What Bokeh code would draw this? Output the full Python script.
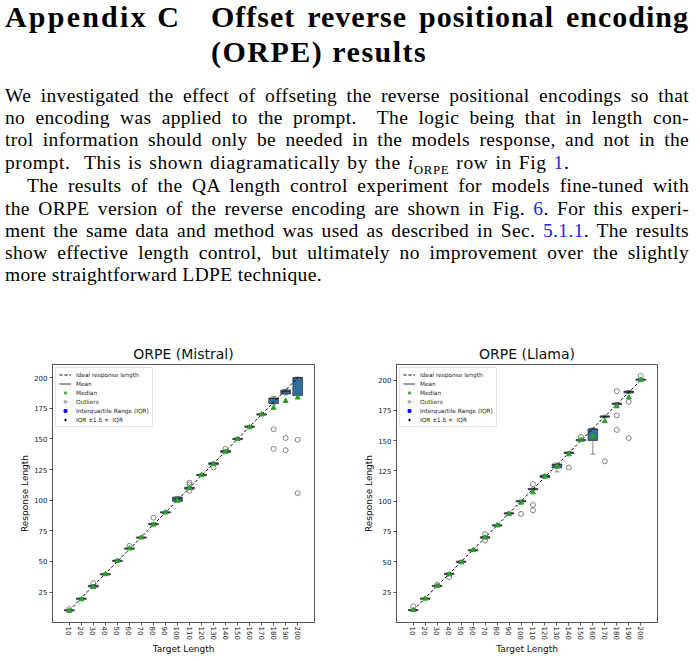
from bokeh.plotting import figure
from bokeh.models import ColumnDataSource, Div, Legend, LegendItem, FixedTicker
from bokeh.layouts import column, row
from bokeh.embed import file_html
from bokeh.resources import INLINE

# target lengths (x categories)
targets = [10, 20, 30, 40, 50, 60, 70, 80, 90, 100,
           110, 120, 130, 140, 150, 160, 170, 180, 190, 200]
y_ticks = [25, 50, 75, 100, 125, 150, 175, 200]

# ORPE (Mistral)
mistral_q1 = [9.5, 19, 29, 39, 50, 60, 69, 80, 89.5, 99, 109, 120, 129, 139, 149.5, 159.5, 169.5, 179, 186.7, 185.4]
mistral_q3 = [10.5, 20, 30.5, 40, 51, 61, 70, 81, 90.5, 102.5, 110.5, 121, 130.5, 140.5, 150.5, 160.5, 170.5, 183.5, 190, 200]
mistral_med = [10, 19.5, 30, 39.5, 50.5, 60.5, 69.5, 80.5, 90, 101, 110, 120.5, 130, 140, 150, 160, 170, 183, 188.7, 200]
mistral_tri = [9.6, 19, 29, 39.5, 50.5, 60.5, 69.5, 80, 90, 99.6, 110, 120.5, 129.5, 139.5, 150, 159.5, 170, 175.4, 181, 183.8]
mistral_wlo = [9, 18.5, 28.5, 38.5, 49.5, 59.5, 68.5, 79.5, 89, 98.5, 108.5, 119.5, 128.5, 138.5, 149, 159, 169, 178, 186, 183]
mistral_whi = [10.8, 20.5, 31, 40.5, 51.5, 61.5, 70.5, 81.5, 91, 103, 111, 121.5, 131, 141, 151, 161, 171, 184.6, 190.5, 200.5]
mistral_out_x = [10, 30, 60, 80, 110, 110, 110, 130, 140, 180, 180, 190, 190, 200, 200]
mistral_out_y = [11, 32.2, 62.7, 85.7, 114.3, 112.8, 107.6, 126.7, 141.9, 157.9, 141.9, 150.8, 140.8, 149.4, 105.7]

# ORPE (Llama)
llama_q1 = [9.5, 19, 29.5, 39.5, 49.5, 59, 69.5, 79.5, 89.5, 99.5, 109.5, 119.5, 127.5, 139.5, 150, 150.2, 169.5, 180, 189.5, 200]
llama_q3 = [10.5, 20, 30.5, 40.5, 50.5, 60, 70.5, 80.5, 90.5, 100.5, 110.5, 121.5, 130.8, 140.5, 151, 159.8, 170.5, 181, 191, 201]
llama_med = [10, 19.5, 30, 40, 50, 59.5, 70.5, 80, 90, 100, 110, 120.5, 130, 140, 150.5, 159.5, 170, 180.5, 190.5, 200.5]
llama_tri = [10, 19.5, 30, 39.5, 49.5, 59.5, 70, 80, 89.5, 98.8, 107.3, 120.5, 128.6, 138.7, 150.5, 153.8, 166.1, 178.4, 185.8, 200.3]
llama_wlo = [9, 18.5, 29, 39, 49, 58.5, 69, 79, 89, 99, 109, 119, 124.3, 139, 149.5, 139, 169, 179.5, 189, 199.5]
llama_whi = [11, 20.5, 31, 41, 51, 60.5, 71, 81, 91, 101, 111, 122, 131.5, 141, 151.5, 160.5, 171, 181.5, 191.5, 201.5]
llama_out_x = [10, 30, 40, 70, 70, 100, 110, 110, 110, 140, 150, 170, 180, 180, 180, 190, 190, 200]
llama_out_y = [13.2, 31, 37.3, 72.8, 67.7, 89.5, 114.1, 96.9, 92.5, 127.8, 153.2, 133, 191, 171, 159, 182.2, 152.2, 203.5]

BOX_W = 8
FONT = "DejaVu Sans"


def make_chart(title, q1, q3, med, tri, wlo, whi, out_x, out_y, y_range, left, right, fw):
    p = figure(frame_width=fw, frame_height=258, title=title, x_range=(-4, 214), y_range=y_range,
               output_backend="svg", toolbar_location=None,
               min_border_left=left, min_border_right=right,
               min_border_top=28, min_border_bottom=20)
    p.grid.visible = False
    p.outline_line_color = "#555555"
    p.title.align = "center"
    p.title.text_font = FONT
    p.title.text_font_size = "14px"
    p.title.text_font_style = "normal"
    p.title.text_color = "#111111"
    p.title.standoff = 6

    src = ColumnDataSource(data=dict(
        x=targets, q1=q1, q3=q3, med=med, tri=tri, wlo=wlo, whi=whi,
        x0=[t - BOX_W / 2 for t in targets], x1=[t + BOX_W / 2 for t in targets],
        c0=[t - BOX_W / 4 for t in targets], c1=[t + BOX_W / 4 for t in targets],
    ))

    # whiskers + caps
    p.segment(x0="x", y0="wlo", x1="x", y1="q1", source=src, line_color="#888888", line_width=1)
    p.segment(x0="x", y0="q3", x1="x", y1="whi", source=src, line_color="#888888", line_width=1)
    p.segment(x0="c0", y0="wlo", x1="c1", y1="wlo", source=src, line_color="#888888", line_width=1)
    p.segment(x0="c0", y0="whi", x1="c1", y1="whi", source=src, line_color="#888888", line_width=1)
    # boxes
    p.vbar(x="x", bottom="q1", top="q3", width=BOX_W, source=src,
           fill_color="#2f6fa0", line_color="#3a3a3a", line_width=0.8)
    mean_r = p.segment(x0="x0", y0="med", x1="x1", y1="med", source=src,
                       line_color="#333333", line_width=1)

    ideal = p.line(x=[targets[0], targets[-1]], y=[targets[0], targets[-1]],
                   line_color="black", line_dash="3 2", line_width=1)
    outl = p.scatter(x=out_x, y=out_y, marker="circle", size=5, fill_color=None,
                     line_color="#666666", line_width=0.8)
    tri_r = p.scatter(x="x", y="tri", source=src, marker="triangle", size=5,
                      fill_color="#2ca02c", line_color="#2ca02c")

    # zero-size markers, only there to give the legend its IQR symbols
    iqr = p.scatter(x="x", y="q1", source=src, marker="square", size=0,
                    fill_color="#0000ff", line_color="#0000ff")
    wh = p.scatter(x="x", y="wlo", source=src, marker="cross", size=0,
                   line_color="black", line_width=1)

    legend = Legend(items=[
        LegendItem(label="Ideal response length", renderers=[ideal]),
        LegendItem(label="Mean", renderers=[mean_r]),
        LegendItem(label="Median", renderers=[tri_r]),
        LegendItem(label="Outliers", renderers=[outl]),
        LegendItem(label="Interquartile Range (IQR)", renderers=[iqr]),
        LegendItem(label="IQR \u00b11.5 \u00d7  IQR", renderers=[wh]),
    ], location="top_left")
    legend.label_text_font = FONT
    legend.label_text_font_size = "5.8px"
    legend.label_text_color = "#222222"
    legend.label_height = 7
    legend.glyph_height = 7
    legend.glyph_width = 12
    legend.spacing = 2
    legend.padding = 3
    legend.margin = 3
    legend.label_standoff = 5
    legend.border_line_color = "#cccccc"
    legend.background_fill_alpha = 0.85
    p.add_layout(legend)

    p.xaxis.ticker = FixedTicker(ticks=targets)
    p.yaxis.ticker = FixedTicker(ticks=y_ticks)
    p.xaxis.major_label_orientation = "vertical"
    p.xaxis.axis_label = "Target Length"
    p.yaxis.axis_label = "Response Length"
    for ax in (p.xaxis[0], p.yaxis[0]):
        ax.minor_tick_line_color = None
        ax.major_tick_in = 0
        ax.major_tick_out = 3
        ax.major_tick_line_color = "#555555"
        ax.axis_line_color = "#555555"
        ax.major_label_text_font = FONT
        ax.major_label_text_font_size = "7px"
        ax.major_label_text_color = "#222222"
        ax.major_label_standoff = 2
        ax.axis_label_text_font = FONT
        ax.axis_label_text_font_size = "9px"
        ax.axis_label_text_font_style = "normal"
        ax.axis_label_text_color = "#111111"
        ax.axis_label_standoff = 1
    p.xaxis.major_label_standoff = 1
    return p


p1 = make_chart("ORPE (Mistral)", mistral_q1, mistral_q3, mistral_med, mistral_tri,
                mistral_wlo, mistral_whi, mistral_out_x, mistral_out_y, (0.1, 210.8), 52, 28, 262)
p2 = make_chart("ORPE (Llama)", llama_q1, llama_q3, llama_med, llama_tri,
                llama_wlo, llama_whi, llama_out_x, llama_out_y, (-0.2, 213), 54, 27, 261)

# the page text above the charts
BLUE = "#2626e6"
body_lines = [
    ("We investigated the effect of offseting the reverse positional encodings so that", True, 0, 105.5),
    ("no encoding was applied to the prompt.&nbsp; The logic being that in length con-", True, 0, 127.5),
    ("trol information should only be needed in the models response, and not in the", True, 0, 149.5),
    ("<span style='word-spacing:1.5px;letter-spacing:0.6px'>prompt.&nbsp; This is shown diagramatically by the "
     "<i>i</i><sub style='font-size:13px'>ORPE</sub> row in Fig "
     f"<span style='color:{BLUE}'>1</span>.</span>", False, 0, 172),
    ("The results of the QA length control experiment for models fine-tuned with", True, 22, 195.5),
    (f"the ORPE version of the reverse encoding are shown in Fig. <span style='color:{BLUE}'>6</span>. For this experi-", True, 0, 217.8),
    (f"ment the same data and method was used as described in Sec. <span style='color:{BLUE}'>5.1.1</span>. The results", True, 0, 240),
    ("show effective length control, but ultimately no improvement over the slightly", True, 0, 262.3),
    ("more straightforward LDPE technique.", False, 0, 284.5),
]


def text_line(html, justify, left, baseline, size, width=684, bold=False, ls=0.0):
    top = baseline - 8 - 0.8375 * size
    al = "text-align:justify;text-align-last:justify;" if justify else "text-align:left;"
    fw = "bold" if bold else "normal"
    return (f"<div style='position:absolute;left:{left}px;top:{top:.1f}px;width:{width - left}px;"
            f"font-size:{size}px;line-height:{size}px;font-weight:{fw};letter-spacing:{ls}px;{al}white-space:nowrap'>"
            f"{html}</div>")


parts = [
    text_line("Appendix C", False, 0, 30.5, 30, width=204, bold=True, ls=2.2),
    text_line("Offset reverse positional encoding", True, 206, 30.5, 30, bold=True, ls=1.0),
    text_line("(ORPE) results", False, 206, 65.5, 30, bold=True, ls=1.5),
]
for html, just, left, base in body_lines:
    parts.append(text_line(html, just, left, base, 19.5, ls=0.35))

head = Div(text=("<div style=\"position:relative;width:684px;height:326px;"
                 "font-family:'Liberation Serif',serif;color:#000\">" + "".join(parts) + "</div>"),
           width=684, height=326)

page = column(head, row(p1, p2))

open("out.html", "w").write(file_html(page, INLINE))
